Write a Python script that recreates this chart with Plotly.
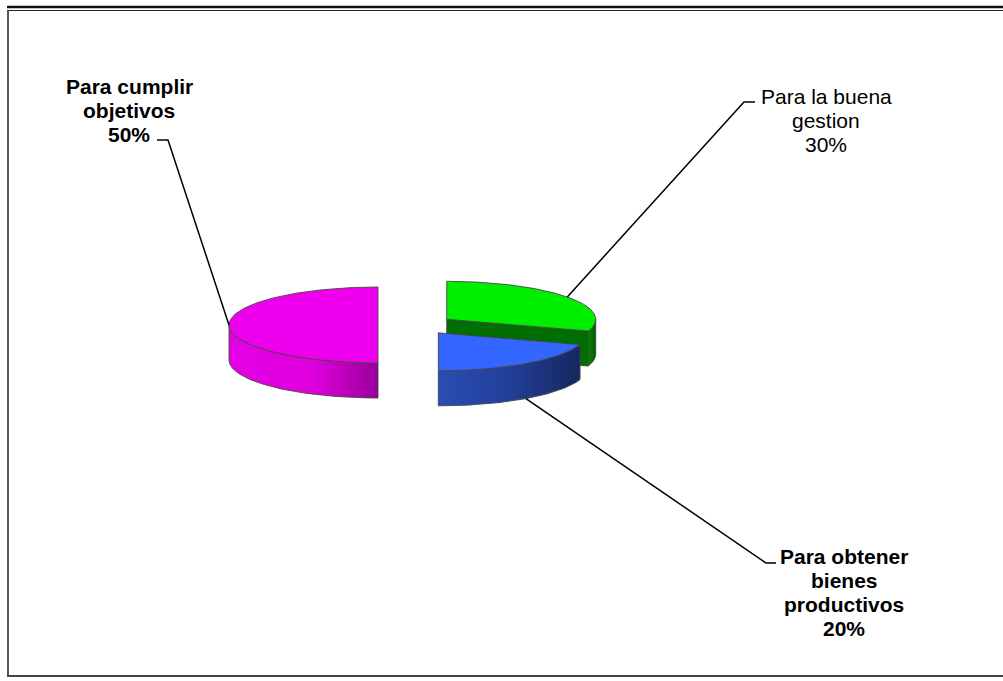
import numpy as np
import plotly.graph_objects as go

# ---------------- data ----------------
labels = ["Para la buena gestion", "Para obtener bienes productivos", "Para cumplir objetivos"]
values = [30, 20, 50]
label_lines = [["Para la buena", "gestion"],
               ["Para obtener", "bienes", "productivos"],
               ["Para cumplir", "objetivos"]]
label_bold = [False, True, True]

# ---------------- style ----------------
top_colors = ["#00EE00", "#3366FF", "#EE00EE"]
side_scales = [
    [[0, "#008A00"], [1, "#005A00"]],
    [[0, "#2A4DB5"], [0.5, "#223F98"], [1, "#16275E"]],
    [[0, "#E400E4"], [0.55, "#E000E0"], [1, "#9A009A"]],
]
radial_colors = ["#006E00", "#1E3A8A", "#B000B0"]
edge = "rgba(70,70,70,0.9)"

W, H = 1003, 681
CX, CY = 416.0, 325.0       # pie centre (pixels)
RX, RY = 149.0, 38.0        # ellipse radii of the top face
DEPTH = 35.0
EXPLODE = 38.0

# label placement (layout)
label_pos = [(826, 96), (844, 556), (129, 86)]
leader_elbow = [(744, 102), (766, 563), (168, 140)]
leader_end = [(755, 102), (776, 563), (157, 140)]
LINE_GAP = 24.3
FONT = "Liberation Sans, Arial, sans-serif"

fig = go.Figure()


def pt(cx, cy, th, dy=0.0):
    return cx + RX * np.sin(th), cy - RY * np.cos(th) + dy


def poly(xs, ys, color=None, gradient=None):
    xs = list(xs) + [xs[0]]
    ys = list(ys) + [ys[0]]
    kw = dict(x=xs, y=ys, mode="lines", fill="toself",
              line=dict(color=edge, width=1), hoverinfo="skip", showlegend=False)
    if gradient is not None:
        kw["fillgradient"] = gradient
        kw["fillcolor"] = gradient["colorscale"][0][1]
    else:
        kw["fillcolor"] = color
    fig.add_trace(go.Scatter(**kw))


total = float(sum(values))
start = 0.0
anchors = []
for i, v in enumerate(values):
    a0 = start
    a1 = start + v / total * 2 * np.pi
    start = a1
    am = (a0 + a1) / 2
    cx = CX + EXPLODE * np.sin(am)
    cy = CY - EXPLODE * np.cos(am) * RY / RX

    # radial faces
    for a, vis in ((a0, np.sin(a0) < -1e-9), (a1, np.sin(a1) > 1e-9)):
        if vis:
            px, py = pt(cx, cy, a)
            poly([cx, px, px, cx], [cy, py, py + DEPTH, cy + DEPTH], color=radial_colors[i])

    # outer side (front half only)
    b0 = max(a0, np.pi / 2)
    b1 = min(a1, 3 * np.pi / 2)
    if b1 > b0:
        th = np.linspace(b0, b1, 80)
        tx, ty = pt(cx, cy, th)
        bx, by = pt(cx, cy, th[::-1], DEPTH)
        xs = np.concatenate([tx, bx])
        ys = np.concatenate([ty, by])
        poly(xs, ys, gradient=dict(type="horizontal", colorscale=side_scales[i],
                                    start=float(xs.min()), stop=float(xs.max())))

    # top face
    th = np.linspace(a0, a1, 160)
    tx, ty = pt(cx, cy, th)
    poly(np.concatenate([[cx], tx]), np.concatenate([[cy], ty]), color=top_colors[i])

    # leader anchor: on top rim, or on bottom rim when the mid-angle is in front
    if np.cos(am) < -0.3 and np.sin(am) > 0.3:
        anchors.append(pt(cx, cy, am, DEPTH))
    else:
        anchors.append(pt(cx, cy, am))

# leader lines and labels
for i, v in enumerate(values):
    ax, ay = anchors[i]
    ex, ey = leader_elbow[i]
    fx, fy = leader_end[i]
    fig.add_trace(go.Scatter(x=[ax, ex, fx], y=[ay, ey, fy], mode="lines",
                             line=dict(color="black", width=1.5),
                             hoverinfo="skip", showlegend=False))
    pct = f"{round(v / total * 100)}%"
    lines = label_lines[i] + [pct]
    lx, ly = label_pos[i]
    for k, t in enumerate(lines):
        txt = f"<b>{t}</b>" if label_bold[i] else t
        fig.add_annotation(x=lx, y=ly + k * LINE_GAP, xref="x", yref="y", text=txt,
                           showarrow=False, xanchor="center", yanchor="middle",
                           font=dict(family=FONT, size=21, color="black"))

# frame
frame = [
    dict(x0=7, y0=7, x1=W, y1=7, width=2.5, color="#111111"),
    dict(x0=8, y0=10.5, x1=W, y1=10.5, width=1.2, color="#222222"),
    dict(x0=8, y0=10, x1=8, y1=677, width=1.8, color="#444444"),
    dict(x0=7, y0=676, x1=W, y1=676, width=2.2, color="#444444"),
]
for f in frame:
    fig.add_shape(type="line", xref="x", yref="y", x0=f["x0"], y0=f["y0"], x1=f["x1"], y1=f["y1"],
                  line=dict(color=f["color"], width=f["width"]))

fig.update_layout(
    width=W, height=H,
    margin=dict(l=0, r=0, t=0, b=0),
    paper_bgcolor="white", plot_bgcolor="white",
    xaxis=dict(range=[0, W], visible=False, fixedrange=True),
    yaxis=dict(range=[H, 0], visible=False, fixedrange=True),
    showlegend=False,
)

fig.write_html("out.html")
